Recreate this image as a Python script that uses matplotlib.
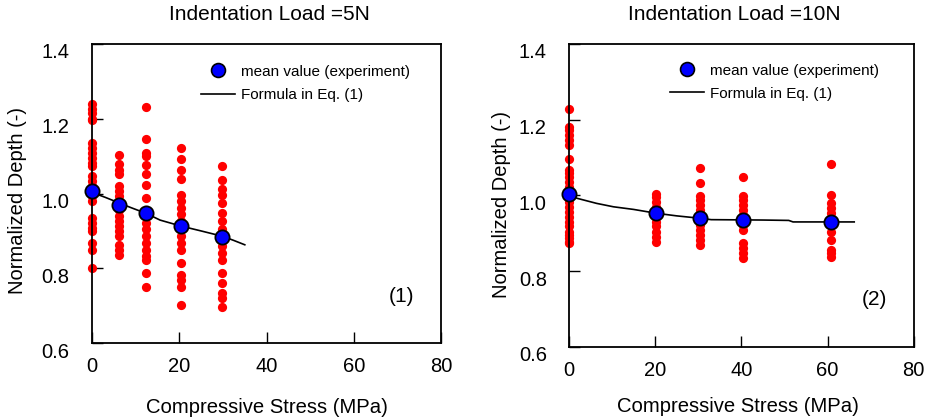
import numpy as np
import matplotlib.pyplot as plt
from matplotlib.lines import Line2D
from matplotlib.transforms import ScaledTranslation

plt.rcParams['font.family'] = ['Liberation Sans', 'DejaVu Sans']

# ---- panel (1): indentation load 5N ----
stress_5 = [0, 6.2, 12.4, 20.4, 29.8]
depth_5 = [
    [1.238, 1.225, 1.216, 1.200, 1.196, 1.136, 1.122, 1.109, 1.096, 1.082, 1.073, 1.046,
     1.033, 1.020, 1.006, 0.993, 0.979, 0.935, 0.921, 0.908, 0.899, 0.868, 0.850, 0.801],
    [1.102, 1.078, 1.064, 1.051, 1.020, 1.006, 0.993, 0.975, 0.957, 0.939, 0.926, 0.912,
     0.899, 0.886, 0.863, 0.850, 0.836],
    [1.231, 1.145, 1.109, 1.100, 1.075, 1.051, 1.022, 0.988, 0.957, 0.939, 0.921, 0.904,
     0.886, 0.868, 0.850, 0.832, 0.823, 0.787, 0.749],
    [1.122, 1.091, 1.064, 1.038, 0.996, 0.979, 0.962, 0.944, 0.926, 0.908, 0.886, 0.868,
     0.850, 0.814, 0.783, 0.770, 0.749, 0.703],
    [1.073, 1.036, 1.011, 0.997, 0.975, 0.948, 0.926, 0.904, 0.881, 0.859, 0.841, 0.823,
     0.787, 0.761, 0.734, 0.721, 0.696],
]
mean_5 = [1.008, 0.970, 0.949, 0.912, 0.884]
formula_x_5 = [0, 3, 6.2, 9, 12.4, 15.6, 20.4, 25, 29.8, 32.4, 35]
formula_y_5 = [1.003, 0.990, 0.975, 0.962, 0.947, 0.929, 0.913, 0.900, 0.886, 0.875, 0.863]

# ---- panel (2): indentation load 10N ----
stress_10 = [0, 20.2, 30.5, 40.5, 60.8]
depth_10 = [
    [1.227, 1.181, 1.172, 1.159, 1.146, 1.132, 1.097, 1.067, 1.058, 1.049, 1.036, 1.023,
     1.010, 0.996, 0.983, 0.970, 0.957, 0.944, 0.931, 0.918, 0.904, 0.896, 0.887, 0.878, 0.874],
    [1.005, 0.996, 0.983, 0.970, 0.957, 0.944, 0.931, 0.918, 0.904, 0.891, 0.878],
    [1.073, 1.034, 0.999, 0.988, 0.975, 0.961, 0.948, 0.935, 0.922, 0.909, 0.896, 0.882, 0.869],
    [1.049, 0.999, 0.988, 0.975, 0.961, 0.948, 0.935, 0.922, 0.909, 0.874, 0.861, 0.847, 0.834],
    [1.082, 1.001, 0.979, 0.966, 0.953, 0.939, 0.926, 0.904, 0.882, 0.856, 0.847, 0.837],
]
mean_10 = [1.003, 0.954, 0.941, 0.935, 0.931]
formula_x_10 = [0, 2, 6.4, 10.3, 15, 20.2, 25, 31, 33, 45, 51, 52, 66.2]
formula_y_10 = [1.000, 0.992, 0.979, 0.970, 0.963, 0.953, 0.946, 0.939, 0.936, 0.935, 0.934, 0.930, 0.930]

titles = ['Indentation Load =5N', 'Indentation Load =10N']
tags = ['(1)', '(2)']

fig = plt.figure(figsize=(9.29, 4.18), dpi=100)
ax1 = fig.add_axes([0.099, 0.179, 0.376, 0.716])
ax2 = fig.add_axes([0.6125, 0.170, 0.371, 0.725])

panels = [
    (ax1, stress_5, depth_5, mean_5, formula_x_5, formula_y_5, 0.507, 1.097,
     (-0.212, 0.478), (0.50, -0.214), (0.312, 0.93)),
    (ax2, stress_10, depth_10, mean_10, formula_x_10, formula_y_10, 0.481, 1.096,
     (-0.197, 0.469), (0.49, -0.198), (0.293, 0.935)),
]

for i, (ax, xs, pts, means, fx, fy, tx, ty, ylab, xlab, leg) in enumerate(panels):
    for x, vals in zip(xs, pts):
        ax.scatter(np.full(len(vals), x), vals, s=44, color='#ff0000', zorder=2,
                   linewidths=0, clip_on=False)
    ax.plot(fx, fy, color='black', lw=1.2, zorder=3)
    ax.scatter(xs, means, s=105, color='#0000ff', edgecolors='black', linewidths=1.3,
               zorder=4, clip_on=False)

    ax.set_xlim(0, 80)
    ax.set_ylim(0.6, 1.4)
    ax.set_xticks([0, 20, 40, 60, 80])
    ax.set_yticks([0.6, 0.8, 1.0, 1.2, 1.4])
    ax.set_yticklabels(['0.6', '0.8', '1.0', '1.2', '1.4'])
    ax.tick_params(direction='in', length=8, width=1, labelsize=14.5, top=False, right=False)
    ax.tick_params(axis='x', pad=10)
    ax.tick_params(axis='y', pad=16)
    off = ScaledTranslation(0, -7 / 100, fig.dpi_scale_trans)
    for lab in ax.get_yticklabels():
        lab.set_transform(lab.get_transform() + off)
    for sp in ax.spines.values():
        sp.set_linewidth(1.3)

    ax.set_ylabel('Normalized Depth (-)', fontsize=14.5)
    ax.yaxis.set_label_coords(*ylab)
    ax.yaxis.label.set_va('center')
    ax.set_xlabel('Compressive Stress (MPa)', fontsize=14.6)
    ax.xaxis.set_label_coords(*xlab)
    ax.xaxis.label.set_va('center')

    ax.text(tx, ty, titles[i], transform=ax.transAxes, ha='center', va='center', fontsize=15)
    ax.text(0.885, 0.155, tags[i], transform=ax.transAxes, ha='center', va='center', fontsize=15)

    handles = [
        Line2D([], [], ls='none', marker='o', markersize=10, markerfacecolor='#0000ff',
               markeredgecolor='black', markeredgewidth=1.2),
        Line2D([], [], color='black', lw=1.2),
    ]
    ax.legend(handles, ['mean value (experiment)', 'Formula in Eq. (1)'],
              loc='upper left', bbox_to_anchor=leg, frameon=False, fontsize=11,
              handlelength=2.2, handletextpad=0.4, labelspacing=0.6,
              borderpad=0, borderaxespad=0)

fig.savefig('out.png', dpi=100)
